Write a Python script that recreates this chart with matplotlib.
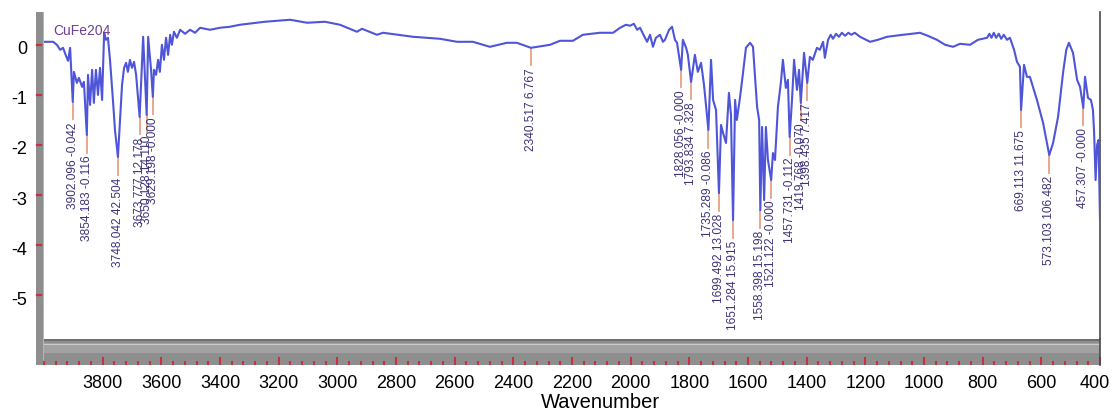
"""
FTIR spectrum of CuFe2O4 with peak picks, drawn in the style of the
instrument software export (grey frame strips, red ruler ticks).
"""

import matplotlib
matplotlib.use("Agg")
import matplotlib.pyplot as plt
from matplotlib.patches import Rectangle
from matplotlib.ticker import FixedLocator, MultipleLocator
from matplotlib.transforms import ScaledTranslation

plt.rcParams["font.family"] = ["Liberation Sans", "DejaVu Sans"]

# ── spectrum trace (wavenumber, signal) ───────────────────────────────────────
WAVENUMBER = [
    4000, 3969, 3956, 3945, 3935, 3925, 3918, 3911, 3902, 3898,
    3888, 3881, 3870, 3864, 3854, 3850, 3843, 3836, 3830, 3823,
    3816, 3809, 3802, 3795, 3789, 3782, 3775, 3765, 3758, 3748,
    3741, 3734, 3727, 3720, 3714, 3707, 3700, 3693, 3686, 3674,
    3662, 3650, 3645, 3635, 3629, 3625, 3618, 3611, 3605, 3598,
    3591, 3584, 3577, 3570, 3564, 3557, 3547, 3536, 3519, 3502,
    3485, 3468, 3434, 3400, 3366, 3332, 3247, 3161, 3103, 3042,
    2991, 2933, 2916, 2865, 2844, 2742, 2650, 2592, 2538, 2480,
    2422, 2388, 2340, 2275, 2241, 2197, 2163, 2105, 2060, 2036,
    2016, 2002, 1989, 1978, 1968, 1958, 1944, 1934, 1924, 1914,
    1900, 1890, 1883, 1869, 1859, 1849, 1842, 1828, 1822, 1811,
    1805, 1794, 1781, 1771, 1760, 1750, 1735, 1726, 1719, 1709,
    1699, 1692, 1685, 1675, 1665, 1658, 1651, 1644, 1638, 1627,
    1617, 1607, 1593, 1583, 1569, 1562, 1558, 1552, 1545, 1539,
    1532, 1521, 1515, 1508, 1498, 1488, 1481, 1471, 1464, 1458,
    1450, 1443, 1433, 1426, 1420, 1409, 1398, 1389, 1379, 1365,
    1355, 1344, 1338, 1327, 1318, 1310, 1300, 1290, 1280, 1269,
    1258, 1248, 1236, 1218, 1184, 1157, 1126, 1099, 1072, 1041,
    1014, 987, 956, 928, 901, 877, 843, 816, 785, 777,
    770, 762, 754, 745, 737, 728, 717, 707, 693, 683,
    673, 669, 659, 649, 639, 615, 594, 573, 560, 543,
    526, 515, 506, 492, 478, 468, 457, 451, 441, 431,
    424, 420, 415, 410, 405, 400,
]
SIGNAL = [
    0.06, 0.06, 0.00, -0.10, -0.06, -0.22, -0.32, -0.06, -1.14, -0.54,
    -0.76, -0.66, -0.84, -0.74, -1.80, -0.60, -1.20, -0.50, -1.16, -0.50,
    -1.00, -0.46, -1.10, 0.24, 0.10, 0.14, -0.30, -1.10, -1.70, -2.24,
    -1.50, -0.80, -0.46, -0.36, -0.54, -0.30, -0.46, -0.34, -0.60, -1.44,
    0.16, -1.40, 0.16, -0.50, -1.04, -0.50, -0.60, -0.30, -0.54, 0.00,
    -0.30, 0.14, -0.20, 0.20, 0.00, 0.26, 0.14, 0.30, 0.22, 0.30,
    0.24, 0.34, 0.30, 0.34, 0.36, 0.40, 0.46, 0.50, 0.44, 0.46,
    0.40, 0.26, 0.32, 0.20, 0.24, 0.16, 0.12, 0.06, 0.06, -0.04,
    0.04, 0.04, -0.06, 0.00, 0.08, 0.08, 0.20, 0.24, 0.24, 0.34,
    0.40, 0.38, 0.42, 0.30, 0.34, 0.22, 0.06, 0.20, -0.04, 0.14,
    0.20, 0.06, 0.10, 0.30, 0.36, 0.10, 0.04, -0.50, 0.10, -0.06,
    -0.20, -0.74, -0.20, -0.54, -0.36, -0.80, -1.70, -0.30, -1.10, -1.30,
    -2.96, -1.60, -1.76, -1.96, -0.96, -1.40, -3.50, -1.10, -1.50, -1.04,
    -0.56, -0.06, 0.04, -0.04, -1.24, -1.50, -3.30, -1.64, -3.10, -1.64,
    -2.30, -2.70, -2.16, -2.30, -1.24, -0.76, -0.30, -0.86, -0.70, -1.84,
    -1.10, -0.30, -0.90, -0.50, -1.16, -0.16, -0.76, -0.24, -0.30, -0.06,
    -0.10, 0.06, -0.26, 0.10, 0.20, 0.12, 0.22, 0.16, 0.24, 0.18,
    0.24, 0.20, 0.24, 0.16, 0.06, 0.10, 0.16, 0.18, 0.20, 0.22,
    0.24, 0.18, 0.10, 0.00, -0.04, 0.02, 0.00, 0.10, 0.14, 0.22,
    0.14, 0.24, 0.14, 0.22, 0.12, 0.20, 0.10, 0.14, -0.10, -0.34,
    -0.44, -1.30, -0.40, -0.64, -0.64, -1.10, -1.56, -2.20, -1.96, -1.44,
    -0.56, -0.10, 0.04, -0.16, -0.70, -0.84, -1.26, -0.64, -1.06, -1.10,
    -1.30, -1.76, -2.70, -2.00, -1.90, -3.50,
]

# ── peak picks: position, curve value at the pick, label text ─────────────────
PEAK_WN = [3902.096, 3854.183, 3748.042, 3673.777, 3650.128, 3629.198,
           2340.517, 1828.056, 1793.834, 1735.289, 1699.492, 1651.284,
           1558.398, 1521.122, 1457.731, 1419.768, 1398.435,
           669.113, 573.103, 457.307]
PEAK_DEPTH = [-1.14, -1.80, -2.24, -1.44, -1.40, -1.04,
              -0.06, -0.50, -0.74, -1.70, -2.96, -3.50,
              -3.30, -2.70, -1.84, -1.16, -0.76,
              -1.30, -2.20, -1.26]
PEAK_VALUE = ["-0.042", "-0.116", "42.504", "12.178", "14.110", "-0.000",
              "6.767", "-0.000", "7.328", "-0.086", "13.028", "15.915",
              "15.198", "-0.000", "-0.112", "-0.070", "7.417",
              "11.675", "106.482", "-0.000"]

Y_TICKS = [0, -1, -2, -3, -4, -5]
X_TICKS = list(range(3800, 399, -200))
SAMPLE = "CuFe204"

# ── layout in image pixels (origin top-left) ──────────────────────────────────
W, H = 1112, 412
PLOT_L, PLOT_R, PLOT_T, PLOT_B = 44, 1100, 12, 339
STRIP_B = 365
GREY = "#8e8e8e"
RED = "#c8323f"


def _box(x0, y0, x1, y1):
    return [x0 / W, 1 - y1 / H, (x1 - x0) / W, (y1 - y0) / H]


def _nudge(label, dx_px, dy_px):
    label.set_transform(label.get_transform()
                        + ScaledTranslation(dx_px / 100, dy_px / 100, fig.dpi_scale_trans))


fig = plt.figure(figsize=(W / 100, H / 100), dpi=100)
ax = fig.add_axes(_box(PLOT_L, PLOT_T, PLOT_R, PLOT_B))
strip = fig.add_axes(_box(PLOT_L, PLOT_B, PLOT_R, STRIP_B))

# ── main plot ─────────────────────────────────────────────────────────────────
ax.plot(WAVENUMBER, SIGNAL, color="#4f55d8", linewidth=1.5, zorder=3)

for wn, depth, val in zip(PEAK_WN, PEAK_DEPTH, PEAK_VALUE):
    ax.plot([wn, wn], [depth, depth - 0.35], color="#e8a084",
            linewidth=1.3, zorder=2)
    ax.text(wn, depth - 0.41, f"{wn:.3f} {val}", rotation=90,
            ha="center", va="top", fontsize=8.6, color="#3e3278")

ax.set_xlim(4000, 400)
ax.set_ylim((44.8 - PLOT_B) / 50.1, (44.8 - PLOT_T) / 50.1)
ax.set_xticks([])
ax.set_yticks(Y_TICKS)
ax.set_yticklabels([str(v) for v in Y_TICKS])
ax.tick_params(axis="y", length=0, pad=12.2, labelsize=13)
for lbl in ax.get_yticklabels():
    _nudge(lbl, 0, -3)
for side in ("top", "bottom", "left"):
    ax.spines[side].set_visible(False)
ax.spines["right"].set_color("#4a4a4a")
ax.spines["right"].set_linewidth(1.2)

ax.text((53 - PLOT_L) / (PLOT_R - PLOT_L), (PLOT_B - 31) / (PLOT_B - PLOT_T),
        SAMPLE, transform=ax.transAxes, ha="left", va="center",
        fontsize=10, color="#6e3f91")

# grey bar on the left, with red marks at each y tick
span_w = PLOT_R - PLOT_L
span_h = PLOT_B - PLOT_T
ax.add_patch(Rectangle((-8 / span_w, (PLOT_B - STRIP_B) / span_h),
                       8 / span_w, (STRIP_B - PLOT_T) / span_h,
                       transform=ax.transAxes, facecolor=GREY,
                       edgecolor="none", clip_on=False, zorder=1))
ax.add_patch(Rectangle((-1.5 / span_w, (PLOT_B - STRIP_B) / span_h),
                       1.5 / span_w, (STRIP_B - PLOT_T) / span_h,
                       transform=ax.transAxes, facecolor="#b5b5b5",
                       edgecolor="none", clip_on=False, zorder=1))
yaxis_tf = ax.get_yaxis_transform()
for v in Y_TICKS:
    ax.plot([-7 / span_w, -3 / span_w], [v, v], color=RED, linewidth=1.6,
            transform=yaxis_tf, clip_on=False, zorder=2)

# ── bottom ruler strip ────────────────────────────────────────────────────────
strip.set_facecolor(GREY)
strip.set_xlim(4000, 400)
strip.set_ylim(0, 1)
strip.set_yticks([])
sh = STRIP_B - PLOT_B
strip.add_patch(Rectangle((0, 1 - 1.5 / sh), 1, 1.5 / sh, transform=strip.transAxes,
                          facecolor="#6f6f6f", edgecolor="none"))
strip.add_patch(Rectangle((0, (STRIP_B - 353) / sh), 1, 10 / sh,
                          transform=strip.transAxes, facecolor="#a2a2a2",
                          edgecolor="none"))
strip.add_patch(Rectangle((0, (STRIP_B - 345) / sh), 1, 1.5 / sh,
                          transform=strip.transAxes, facecolor="#cdcdcd",
                          edgecolor="none"))
strip.xaxis.set_major_locator(FixedLocator(X_TICKS))
strip.xaxis.set_minor_locator(MultipleLocator(40))
strip.set_xticklabels([str(v) for v in X_TICKS])
strip.tick_params(axis="x", which="major", direction="in", length=5.5,
                  width=1.5, color=RED, pad=7, labelsize=13)
strip.tick_params(axis="x", which="minor", direction="in", length=3,
                  width=1.5, color=RED)
_nudge(strip.get_xticklabels()[-1], -5, 0)
for side in ("top", "bottom", "left"):
    strip.spines[side].set_visible(False)
strip.spines["right"].set_color("#4a4a4a")
strip.spines["right"].set_linewidth(1.2)

fig.text(600 / W, 1 - 402 / H, "Wavenumber", ha="center", va="center",
         fontsize=14.5)

fig.savefig("out.png", dpi=100)
